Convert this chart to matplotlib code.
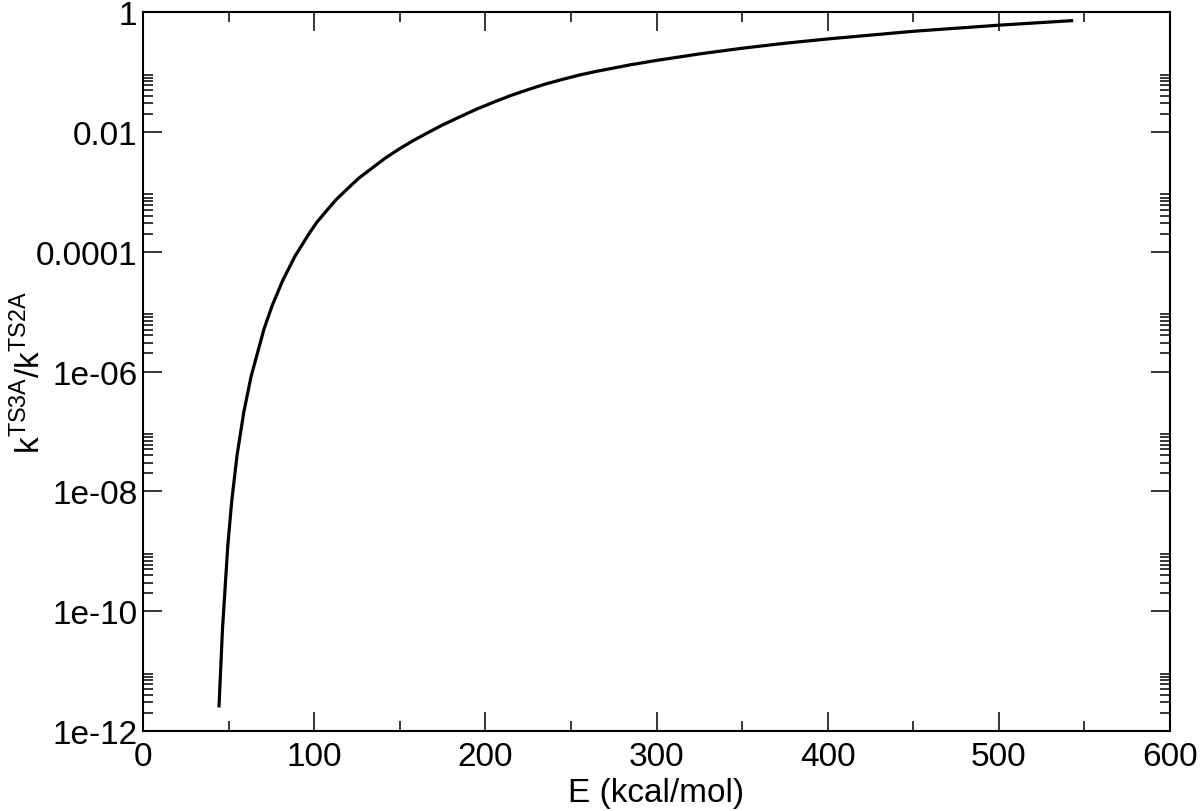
import matplotlib
matplotlib.use("Agg")
import matplotlib.pyplot as plt
from matplotlib.ticker import FixedLocator, FixedFormatter, NullFormatter

plt.rcParams['font.family'] = ['Liberation Sans', 'DejaVu Sans']
plt.rcParams['mathtext.fontset'] = 'custom'
plt.rcParams['mathtext.rm'] = 'Liberation Sans'

# data (E in kcal/mol, ratio as log10)
energy = [44.4, 46.41, 49.51, 51.75, 54.91, 58.85, 63.15, 70.68, 75.45, 81.61,
          88.88, 97.41, 101.8, 107.12, 112.7, 119.43, 126.2, 134.51, 141.7, 150.0,
          157.5, 165.0, 175.0, 185.0, 195.0, 205.0, 215.0, 225.0, 235.0, 245.0,
          255.0, 265.0, 285.0, 300.0, 325.0, 350.0, 375.0, 400.0, 450.0, 500.0,
          542.5]
log_ratio = [-11.58, -10.30, -8.91, -8.18, -7.40, -6.68, -6.08, -5.29, -4.90, -4.48,
             -4.07, -3.68, -3.50, -3.32, -3.135, -2.95, -2.77, -2.59, -2.435, -2.28,
             -2.152, -2.035, -1.885, -1.751, -1.62, -1.503, -1.392, -1.295, -1.203, -1.125,
             -1.052, -0.990, -0.880, -0.808, -0.700, -0.605, -0.522, -0.450, -0.322, -0.220,
             -0.145]
ratio = [10 ** v for v in log_ratio]

x_ticks = [0, 100, 200, 300, 400, 500, 600]
x_minor = [50, 150, 250, 350, 450, 550]
y_ticks = [1e-12, 1e-10, 1e-8, 1e-6, 1e-4, 1e-2, 1]
y_labels = ['1e-12', '1e-10', '1e-08', '1e-06', '0.0001', '0.01', '1']
y_minor = [k * t for t in [1e-12, 1e-10, 1e-8, 1e-6, 1e-4, 1e-2] for k in range(2, 10)]

fig = plt.figure(figsize=(12, 8.12), dpi=100)
ax = fig.add_axes([0.1192, 0.0985, 0.8558, 0.8855])

ax.plot(energy, ratio, color='black', lw=2.3, solid_joinstyle='round')

ax.set_yscale('log')
ax.set_xlim(0, 600)
ax.set_ylim(1e-12, 1)

ax.xaxis.set_major_locator(FixedLocator(x_ticks))
ax.xaxis.set_minor_locator(FixedLocator(x_minor))
ax.yaxis.set_major_locator(FixedLocator(y_ticks))
ax.yaxis.set_major_formatter(FixedFormatter(y_labels))
ax.yaxis.set_minor_locator(FixedLocator(y_minor))
ax.yaxis.set_minor_formatter(NullFormatter())

ax.tick_params(which='both', direction='in', top=True, right=True, width=1.1,
               labelsize=24, colors='black')
ax.tick_params(which='major', length=13.7)
ax.tick_params(which='minor', length=7.2)
ax.tick_params(axis='y', which='major', pad=4)
ax.tick_params(axis='x', which='major', pad=7)

for sp in ax.spines.values():
    sp.set_linewidth(1.5)

ax.set_xlabel('E (kcal/mol)', fontsize=24, labelpad=4)
ax.set_ylabel(r'k$^{\mathrm{TS3A}}$/k$^{\mathrm{TS2A}}$', fontsize=24)
ax.yaxis.set_label_coords(-0.093, 0.5)

fig.savefig('out.png', dpi=100)
